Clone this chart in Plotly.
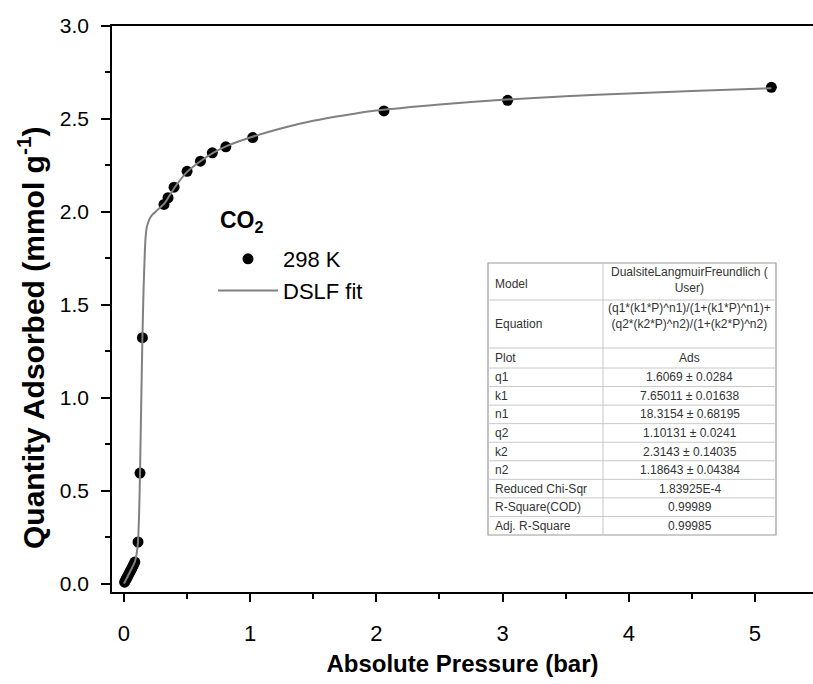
import plotly.graph_objects as go

# ---- data ----
p_data = [0.005, 0.012, 0.02, 0.028, 0.036, 0.045, 0.053, 0.061, 0.07, 0.078, 0.086,
          0.111, 0.127, 0.146, 0.317, 0.349, 0.397, 0.50, 0.606, 0.70, 0.807, 1.02,
          2.06, 3.04, 5.13]
q_data = [0.008, 0.018, 0.028, 0.038, 0.048, 0.06, 0.07, 0.081, 0.093, 0.104, 0.116,
          0.224, 0.595, 1.323, 2.04, 2.076, 2.133, 2.218, 2.273, 2.318, 2.35, 2.40,
          2.543, 2.60, 2.67]

p_fit = [0, 0.03, 0.06, 0.085, 0.1, 0.111, 0.12, 0.127, 0.136, 0.146, 0.155, 0.165,
         0.172, 0.18, 0.19, 0.205, 0.225, 0.25, 0.28, 0.32, 0.4, 0.5, 0.6, 0.7, 0.8,
         1.0, 1.25, 1.5, 1.75, 2.0, 2.5, 3.0, 3.5, 4.0, 4.5, 5.13]
q_fit = [0, 0.04, 0.08, 0.115, 0.16, 0.224, 0.38, 0.595, 0.95, 1.32, 1.58, 1.78,
         1.87, 1.915, 1.94, 1.965, 1.985, 2.0, 2.02, 2.045, 2.13, 2.215, 2.27, 2.315, 2.35,
         2.40, 2.45, 2.49, 2.52, 2.545, 2.578, 2.603, 2.622, 2.637, 2.65, 2.665]

x_ticks = [0, 1, 2, 3, 4, 5]
y_ticks = [0.0, 0.5, 1.0, 1.5, 2.0, 2.5, 3.0]

table_labels = ["Model", "Equation", "Plot", "q1", "k1", "n1", "q2", "k2", "n2",
                "Reduced Chi-Sqr", "R-Square(COD)", "Adj. R-Square"]
table_values = ["DualsiteLangmuirFreundlich (<br>User)",
                "(q1*(k1*P)^n1)/(1+(k1*P)^n1)+<br>(q2*(k2*P)^n2)/(1+(k2*P)^n2)",
                "Ads", "1.6069 ± 0.0284", "7.65011 ± 0.01638", "18.3154 ± 0.68195",
                "1.10131 ± 0.0241", "2.3143 ± 0.14035", "1.18643 ± 0.04384",
                "1.83925E-4", "0.99989", "0.99985"]

W, H = 813, 684
ML, MR, MT, MB = 112, 0, 26, 92
PW, PH = W - ML - MR, H - MT - MB

def px(x):
    return (x - ML) / PW

def py(y):
    return (H - MB - y) / PH

fig = go.Figure()
fig.add_trace(go.Scatter(x=p_data, y=q_data, mode="markers", name="298 K",
                         marker=dict(color="black", size=11)))
fig.add_trace(go.Scatter(x=p_fit, y=q_fit, mode="lines", name="DSLF fit",
                         line=dict(color="#808080", width=2, shape="spline", smoothing=0.6)))

font = "Liberation Sans, Arial, sans-serif"
fig.update_layout(
    width=W, height=H,
    margin=dict(l=ML, r=MR, t=MT, b=MB),
    plot_bgcolor="white", paper_bgcolor="white",
    font=dict(family=font, color="black"),
    showlegend=True,
    legend=dict(x=px(213), y=py(238), xanchor="left", yanchor="top",
                bgcolor="rgba(0,0,0,0)", font=dict(size=22, family=font),
                itemwidth=60, tracegroupgap=0),
    xaxis=dict(range=[-0.095, 5.46], tickvals=x_ticks, ticks="outside", ticklen=8,
               tickwidth=1.5, tickcolor="black", showline=True, linecolor="black",
               linewidth=1.5, mirror=True, showgrid=False, zeroline=False,
               tickfont=dict(size=22), ticklabelstandoff=13,
               minor=dict(dtick=0.5, ticks="outside", ticklen=5, tickwidth=1.5, tickcolor="black"),
               title=dict(text="<b>Absolute Pressure (bar)</b>", font=dict(size=24), standoff=10)),
    yaxis=dict(range=[-0.045, 3.0], tickvals=y_ticks, tickformat=".1f", ticks="outside",
               ticklen=9, tickwidth=1.5, tickcolor="black", showline=True, linecolor="black",
               linewidth=1.5, showgrid=False, zeroline=False, tickfont=dict(size=21),
               ticklabelstandoff=8,
               minor=dict(dtick=0.25, ticks="outside", ticklen=5, tickwidth=1.5, tickcolor="black")),
)

# ---- fit-report table ----
tx0, tx1, tcol = 488, 776, 603
row_edges = [263, 300, 348, 368]
rh = (535 - 368) / 9
for i in range(1, 10):
    row_edges.append(368 + rh * i)
shapes = []
shapes.append(dict(type="rect", xref="paper", yref="paper", x0=px(tx0), x1=px(tx1),
                   y0=py(row_edges[-1]), y1=py(row_edges[0]),
                   line=dict(color="#9a9a9a", width=1.2), fillcolor="white", layer="above"))
for e in row_edges[1:-1]:
    shapes.append(dict(type="line", xref="paper", yref="paper", x0=px(tx0), x1=px(tx1),
                       y0=py(e), y1=py(e), line=dict(color="#c8c8c8", width=1), layer="above"))
shapes.append(dict(type="line", xref="paper", yref="paper", x0=px(tcol), x1=px(tcol),
                   y0=py(row_edges[-1]), y1=py(row_edges[0]),
                   line=dict(color="#c8c8c8", width=1), layer="above"))
fig.update_layout(shapes=shapes)

annos = []
for i, (lab, val) in enumerate(zip(table_labels, table_values)):
    y0, y1 = row_edges[i], row_edges[i + 1]
    yc = (y0 + y1) / 2
    annos.append(dict(xref="paper", yref="paper", x=px(tx0 + 5), y=py(yc + (2 if i == 0 else 0)),
                      xanchor="left", yanchor="middle", text=lab, showarrow=False,
                      font=dict(size=12, color="#333333", family=font)))
    vy = yc
    if i == 0:
        vy = yc - 2
    if i == 1:
        vy = yc - 8
    annos.append(dict(xref="paper", yref="paper", x=px((tcol + tx1) / 2), y=py(vy),
                      xanchor="center", yanchor="middle", text=val, showarrow=False,
                      align="center", font=dict(size=12, color="#333333", family=font)))

# legend title and y-axis title as free text
annos.append(dict(xref="paper", yref="paper", x=px(218), y=py(221), xanchor="left",
                  yanchor="middle", text="<b>CO<sub>2</sub></b>", showarrow=False,
                  font=dict(size=23, family=font, color="black")))
annos.append(dict(xref="paper", yref="paper", x=px(31), y=py(338), xanchor="center",
                  yanchor="middle", textangle=-90, showarrow=False,
                  text="<b>Quantity Adsorbed (mmol g<sup>-1</sup>)</b>",
                  font=dict(size=30, family=font, color="black")))
fig.update_layout(annotations=annos)

fig.write_html("out.html")
